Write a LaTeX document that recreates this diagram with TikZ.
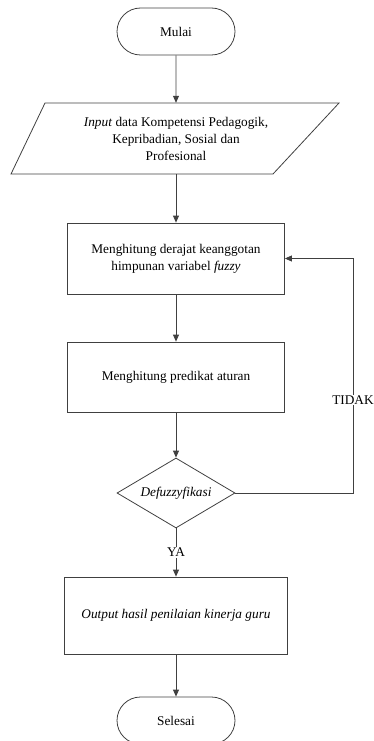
\documentclass[tikz,border=0pt]{standalone}
\usepackage{fontspec}
\setmainfont{Liberation Serif}
\usetikzlibrary{shapes.geometric, shapes.misc, arrows.meta, positioning}

\begin{document}
\begin{tikzpicture}[x=1pt, y=-1pt, >={Triangle[length=7pt,width=6pt]},
    font=\fontsize{13.3}{17}\selectfont,
    garis/.style={line width=0.8pt, draw=black!75},
    terminal/.style={garis, rounded rectangle, minimum width=118pt, minimum height=47pt, inner sep=0pt},
    proses/.style={garis, rectangle, minimum width=217pt, minimum height=71pt, align=center},
    keputusan/.style={garis, diamond, aspect=1.7, minimum width=118pt, minimum height=70pt, inner sep=0pt},
    label/.style={fill=white, inner sep=1pt},
    panah/.style={garis, ->}]

    % batas gambar
    \useasboundingbox (0,0) rectangle (374,741);

    % =================================================================
    % 1. SIMPUL-SIMPUL DIAGRAM ALIR
    % =================================================================
    \node[terminal] (mulai) at (176,31.5) {Mulai};

    % simpul input (jajaran genjang digambar terpisah)
    \node[minimum height=71pt, align=center] (input) at (176,138.5)
        {\textit{Input} data Kompetensi Pedagogik,\\ Kepribadian, Sosial dan\\ Profesional};
    \draw[garis] (45,103) -- (339,103) -- (273,174) -- (11,174) -- cycle;

    \node[proses] (derajat) at (176,258.5)
        {Menghitung derajat keanggotan\\ himpunan variabel \textit{fuzzy}};
    \node[proses, minimum height=70pt] (predikat) at (176,377) {Menghitung predikat aturan};
    \node[keputusan] (defuzz) at (176,493) {\textit{Defuzzyfikasi}};
    \node[proses, minimum width=223pt, minimum height=77pt] (output) at (176,615.5)
        {\textit{Output hasil penilaian kinerja guru}};
    \node[terminal] (selesai) at (176,720.5) {Selesai};

    % titik belok untuk umpan balik
    \coordinate (sudut) at (353,258.5);

    % =================================================================
    % 2. PANAH PENGHUBUNG
    % =================================================================
    \draw[panah] (mulai) -- (input);
    \draw[panah] (input) -- (derajat);
    \draw[panah] (derajat) -- (predikat);
    \draw[panah] (predikat) -- (defuzz);
    \draw[panah] (defuzz) -- node[label] (ya) {YA} (output);
    \draw[panah] (output) -- (selesai);

    % umpan balik jika tidak
    \draw[panah] (defuzz.east) -| (sudut) -- (derajat.east);
    \node[label] (tidak) at (353,400) {TIDAK};

\end{tikzpicture}
\end{document}
